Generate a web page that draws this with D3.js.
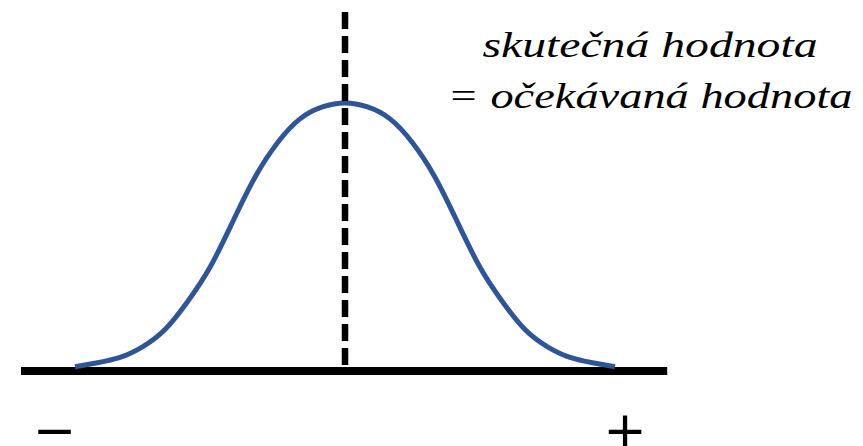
<!DOCTYPE html>
<html>
<head>
<meta charset="utf-8">
<script src="https://cdn.jsdelivr.net/npm/d3@7"></script>
<style>
  html, body { margin: 0; padding: 0; background: #fff; }
</style>
</head>
<body>
<script>
// Canvas size
const width = 863;
const height = 446;

// Curve (x in spread units, y relative height)
const curveX = [-3, -2.75, -2.5, -2.25, -2, -1.75, -1.5, -1.25, -1, -0.75, -0.5, -0.25, 0,
                0.25, 0.5, 0.75, 1, 1.25, 1.5, 1.75, 2, 2.25, 2.5, 2.75, 3];
const curveY = [0.005, 0.02, 0.04, 0.08, 0.145, 0.25, 0.38, 0.55, 0.72, 0.85, 0.94, 0.985, 1,
                0.985, 0.94, 0.85, 0.72, 0.55, 0.38, 0.25, 0.145, 0.08, 0.04, 0.02, 0.005];
const expectedValue = 0;
const axisExtent = [-3.6, 3.58];
const labelLines = ["skutečná hodnota", "= očekávaná hodnota"];
const labelWidths = [335, 405];
const endLabels = ["\u2212", "+"];

const svg = d3.select("body").append("svg")
  .attr("width", width)
  .attr("height", height);

// Scales
const x = d3.scaleLinear().domain([-3.6, 3.6]).range([21, 669]);
const y = d3.scaleLinear().domain([0, 1]).range([368, 103]);

// Baseline
svg.append("line")
  .attr("x1", x(axisExtent[0]))
  .attr("x2", x(axisExtent[1]))
  .attr("y1", y(0) + 3)
  .attr("y2", y(0) + 3)
  .attr("stroke", "#000")
  .attr("stroke-width", 8);

// The bell curve
const points = curveX.map((d, i) => [d, curveY[i]]);
const line = d3.line()
  .x(d => x(d[0]))
  .y(d => y(d[1]))
  .curve(d3.curveNatural);

svg.append("path")
  .datum(points)
  .attr("d", line)
  .attr("fill", "none")
  .attr("stroke", "#2f5597")
  .attr("stroke-width", 5);

// Dashed line at the expected value
svg.append("line")
  .attr("x1", x(expectedValue))
  .attr("x2", x(expectedValue))
  .attr("y1", 12)
  .attr("y2", y(0))
  .attr("stroke", "#000")
  .attr("stroke-width", 6.5)
  .attr("stroke-dasharray", "17,7");

// Annotation text
svg.append("g")
  .selectAll("text")
  .data(labelLines)
  .enter()
  .append("text")
  .attr("x", 650)
  .attr("y", (d, i) => 57 + i * 51)
  .attr("text-anchor", "middle")
  .attr("textLength", (d, i) => labelWidths[i])
  .attr("lengthAdjust", "spacingAndGlyphs")
  .style("font-family", "'Liberation Serif', serif")
  .style("font-style", "italic")
  .style("font-size", "35px")
  .text(d => d);

// Minus / plus at the ends
svg.append("g")
  .selectAll("text")
  .data(endLabels)
  .enter()
  .append("text")
  .attr("x", (d, i) => i === 0 ? 54.5 : 625)
  .attr("y", 448)
  .attr("text-anchor", "middle")
  .style("font-family", "'DejaVu Sans', sans-serif")
  .style("font-size", "52px")
  .text(d => d);
</script>
</body>
</html>
